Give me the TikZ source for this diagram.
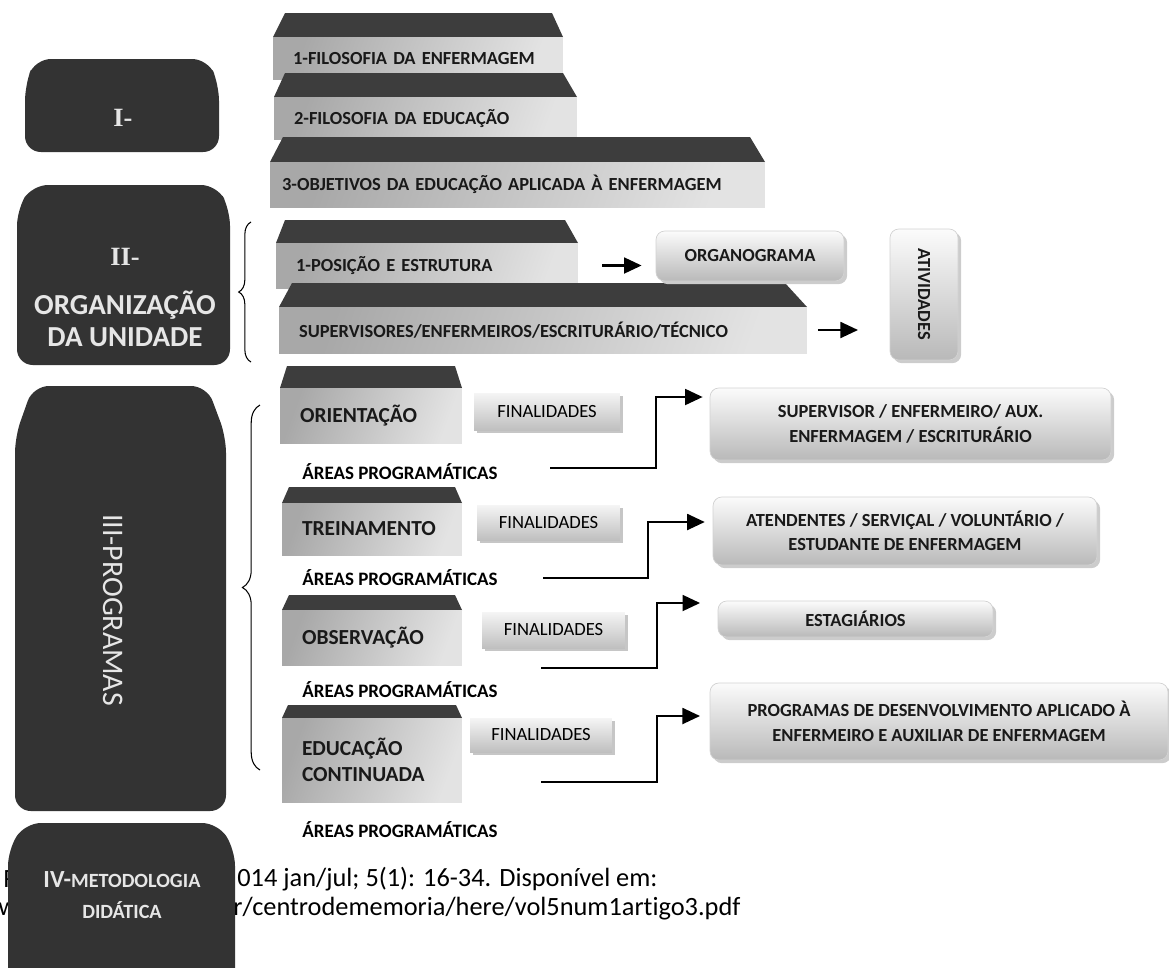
\documentclass[tikz,border=0pt]{standalone}
\usepackage{fontspec}
\setmainfont{Carlito}[Ligatures=NoCommon]
\newfontfamily\romanfont{Liberation Serif}
\usetikzlibrary{arrows.meta,shadows,decorations.pathreplacing}

\definecolor{panel}{HTML}{333333}
\definecolor{roofgray}{HTML}{3D3D3D}
\definecolor{paneltext}{HTML}{E6E6E6}

\tikzset{
  panel/.style={fill=panel,rounded corners=9pt},
  paneltitle/.style={text=paneltext,inner sep=0pt,font=\romanfont\fontsize{15}{17}\selectfont\bfseries},
  panellabel/.style={text=paneltext,inner sep=0pt,font=\fontsize{16.5}{19}\selectfont\bfseries},
  roof/.style={fill=roofgray},
  tab/.style={shading=axis,left color=gray!68,right color=gray!22,shading angle=70,
    inner xsep=0.4cm,inner ysep=0pt,align=left,text=black!90,
    font=\fontsize{10.5}{12}\selectfont\bfseries},
  bigtab/.style={tab,font=\fontsize{12.2}{15}\selectfont\bfseries},
  goal/.style={top color=gray!8,bottom color=gray!50,inner sep=0pt,
    font=\fontsize{10.6}{12}\selectfont,
    drop shadow={shadow xshift=1.8pt,shadow yshift=-1.8pt,fill=gray!45,opacity=1}},
  target/.style={rounded corners=5pt,top color=gray!3,bottom color=gray!55,draw=gray!35,
    align=center,inner sep=0pt,text=black!90,font=\fontsize{10.5}{14}\selectfont\bfseries,
    drop shadow={shadow xshift=1.8pt,shadow yshift=-1.8pt,fill=gray!40,opacity=1}},
  area/.style={anchor=west,inner sep=0pt,font=\fontsize{10.8}{12}\selectfont\bfseries},
  link/.style={-{Triangle[length=10pt,width=9pt]},line width=1.4pt},
  curly/.style={decorate,decoration={brace,amplitude=#1},line width=0.6pt},
  cite/.style={anchor=west,inner sep=0pt,font=\fontsize{15}{17}\selectfont}
}

\begin{document}
\begin{tikzpicture}[x=0.02cm,y=-0.02cm]
  \useasboundingbox (0,0) rectangle (1169,967);

  % reference lines, partly under panel IV
  \node[cite] (ref1a) at (3,879) {R};
  \node[cite] (ref1b) at (237,879) {014 jan/jul; 5(1): 16-34. Disponível em:};
  \node[cite] (ref2a) at (-2,909) {w};
  \node[cite] (ref2b) at (233,909) {r/centrodememoria/here/vol5num1artigo3.pdf};

  % left panels
  \fill[panel] (25,152) -- (25,85) -- (35,59) -- (208,59) -- (219,85) -- (219,152) -- cycle;
  \fill[panel] (17,365) -- (17,210) -- (32,185) -- (217,185) -- (230,210) -- (230,365) -- cycle;
  \fill[panel] (15,811) -- (15,437) -- (33,386) -- (207,386) -- (226,437) -- (226,811) -- cycle;
  \fill[panel] (8,995) -- (8,850) -- (25,823) -- (218,823) -- (235,850) -- (235,995) -- cycle;

  \node[paneltitle] (one) at (123,118) {I-};
  \node[paneltitle] (two) at (125,257) {II-};
  \node[panellabel] (unit1) at (125,305) {ORGANIZAÇÃO};
  \node[panellabel] (unit2) at (125,337) {DA UNIDADE};
  \node[panellabel,font=\fontsize{17}{19}\selectfont,rotate=-90] (three) at (113,610) {III-PROGRAMAS};
  \node[panellabel,font=\fontsize{11.5}{13}\selectfont\bfseries] (four1) at (122,880)
    {{\fontsize{14}{15}\selectfont IV-}METODOLOGIA};
  \node[panellabel,font=\fontsize{11.5}{13}\selectfont\bfseries] (four2) at (122,910) {DIDÁTICA};

  % tabs of part I and II
  \fill[roof] (273,37) -- (285,13) -- (552,13) -- (563,37) -- cycle;
  \node[tab,minimum height=0.86cm,text width=5.0cm] (phil) at (418,58.5) {1-FILOSOFIA DA ENFERMAGEM};
  \fill[roof] (274,97) -- (285,73) -- (563,73) -- (577,97) -- cycle;
  \node[tab,minimum height=0.86cm,text width=5.26cm] (edu) at (425.5,118.5) {2-FILOSOFIA DA EDUCAÇÃO};
  \fill[roof] (270,162) -- (283,137) -- (750,137) -- (765,162) -- cycle;
  \node[tab,inner xsep=0.24cm,minimum height=0.9cm,text width=9.42cm] (aims) at (517.5,184.5)
    {3-OBJETIVOS DA EDUCAÇÃO APLICADA À ENFERMAGEM};
  \fill[roof] (276,243) -- (285,220) -- (565,220) -- (578,243) -- cycle;
  \node[tab,minimum height=0.9cm,text width=5.24cm] (pos) at (427,265.5) {1-POSIÇÃO E ESTRUTURA};
  \fill[roof] (279,307) -- (292,283) -- (785,283) -- (807,307) -- cycle;
  \node[tab,minimum height=0.92cm,text width=9.76cm] (staff) at (543,330)
    {SUPERVISORES/ENFERMEIROS/ESCRITURÁRIO/TÉCNICO};

  \node[target,minimum width=3.76cm,minimum height=1.0cm] (chart) at (750,256) {ORGANOGRAMA};
  \node[target,minimum width=1.36cm,minimum height=2.62cm] (tasks) at (924,294.5) {\rotatebox{-90}{ATIVIDADES}};

  \draw[link,shorten <=13.6pt,shorten >=8pt] (pos.east) -- (pos.east -| chart.west);
  \draw[link,shorten <=6pt,shorten >=18pt] (staff.east) -- (staff.east -| tasks.west);

  % programmes
  \fill[roof] (280,388) -- (287,366) -- (455,366) -- (462,388) -- cycle;
  \node[bigtab,minimum height=1.1cm,text width=2.84cm] (ori) at (371,415.5) {ORIENTAÇÃO};
  \fill[roof] (282,503) -- (289,487) -- (455,487) -- (462,503) -- cycle;
  \node[bigtab,minimum height=1.04cm,text width=2.8cm] (tre) at (372,529) {TREINAMENTO};
  \fill[roof] (282,610) -- (289,595) -- (455,595) -- (462,610) -- cycle;
  \node[bigtab,minimum height=1.1cm,text width=2.8cm] (obs) at (372,637.5) {OBSERVAÇÃO};
  \fill[roof] (282,718) -- (288,705) -- (456,705) -- (462,718) -- cycle;
  \node[bigtab,minimum height=1.68cm,text width=2.8cm] (cont) at (372,760) {EDUCAÇÃO\\CONTINUADA};

  \node[goal,minimum width=2.92cm,minimum height=0.74cm] (fin1) at (547,411.5) {FINALIDADES};
  \node[goal,minimum width=2.86cm,minimum height=0.7cm] (fin2) at (548.5,522.5) {FINALIDADES};
  \node[goal,minimum width=2.86cm,minimum height=0.72cm] (fin3) at (553.5,630) {FINALIDADES};
  \node[goal,minimum width=2.84cm,minimum height=0.68cm] (fin4) at (541,735) {FINALIDADES};

  \node[area] (area1) at (302,472) {ÁREAS PROGRAMÁTICAS};
  \node[area] (area2) at (302,578) {ÁREAS PROGRAMÁTICAS};
  \node[area] (area3) at (302,690) {ÁREAS PROGRAMÁTICAS};
  \node[area] (area4) at (302,830) {ÁREAS PROGRAMÁTICAS};

  \node[target,minimum width=8.02cm,minimum height=1.44cm] (grp1) at (910.5,424)
    {SUPERVISOR / ENFERMEIRO/ AUX.\\ENFERMAGEM / ESCRITURÁRIO};
  \node[target,minimum width=7.68cm,minimum height=1.36cm] (grp2) at (905,531)
    {ATENDENTES / SERVIÇAL / VOLUNTÁRIO /\\ESTUDANTE DE ENFERMAGEM};
  \node[target,minimum width=5.5cm,minimum height=0.72cm] (grp3) at (855.5,619) {ESTAGIÁRIOS};
  \node[target,minimum width=9.16cm,minimum height=1.54cm] (grp4) at (939,721.5)
    {PROGRAMAS DE DESENVOLVIMENTO APLICADO À\\ENFERMEIRO E AUXILIAR DE ENFERMAGEM};

  \coordinate (s1) at (550,468);
  \coordinate (k1) at (656,397);
  \coordinate (s2) at (543,578);
  \coordinate (k2) at (648,522);
  \coordinate (s3) at (541,668);
  \coordinate (k3) at (657,603);
  \coordinate (s4) at (541,782);
  \coordinate (k4) at (657,716);

  \draw[link,shorten >=4pt] (s1) -| (k1) -- (k1 -| grp1.west);
  \draw[link,shorten >=4.5pt] (s2) -| (k2) -- (k2 -| grp2.west);
  \draw[link,shorten >=10pt] (s3) -| (k3) -- (k3 -| grp3.west);
  \draw[link,shorten >=5.5pt] (s4) -| (k4) -- (k4 -| grp4.west);

  % braces
  \draw[curly=7pt] (251,362) -- (251,222);
  \draw[curly=10pt] (260,770) -- (260,405);
\end{tikzpicture}
\end{document}
